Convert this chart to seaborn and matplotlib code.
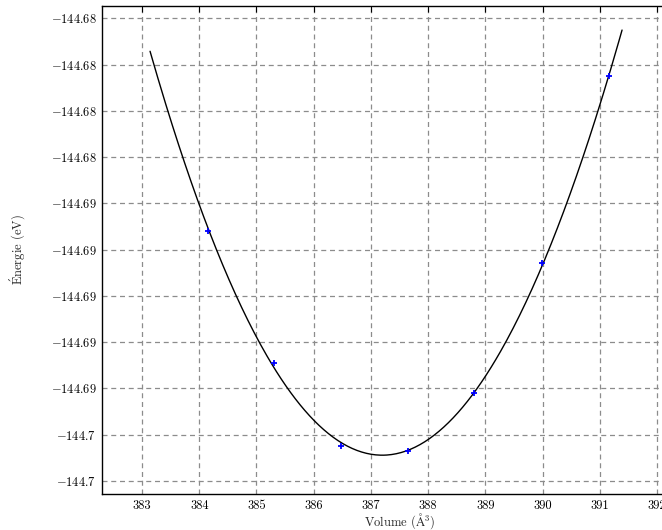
import numpy as np
import pandas as pd
import matplotlib
matplotlib.use("Agg")
import matplotlib.pyplot as plt
from matplotlib.ticker import FuncFormatter, FixedLocator
import seaborn as sns

# Data
volume = [384.159, 385.313, 386.479, 387.645, 388.810, 389.988, 391.164]
energy = [-144.68719, -144.69290, -144.69649, -144.69670, -144.69420, -144.68859, -144.68049]
fit_start, fit_end = 383.14, 391.39
fit_order = 3
y_ticks = [-144.678, -144.680, -144.682, -144.684, -144.686, -144.688,
           -144.690, -144.692, -144.694, -144.696, -144.698]
x_ticks = [383, 384, 385, 386, 387, 388, 389, 390, 391, 392]

sns.set_style("white")
plt.rcParams.update({
    "font.family": ["cmr10", "DejaVu Serif"],
    "mathtext.fontset": "cm",
    "axes.formatter.use_mathtext": True,
    "axes.unicode_minus": True,
})

df = pd.DataFrame({"V": volume, "E": energy})
coef = np.polyfit(df["V"], df["E"], fit_order)
vfit = np.linspace(fit_start, fit_end, 300)
fit_df = pd.DataFrame({"V": vfit, "E": np.polyval(coef, vfit)})

fig = plt.figure(figsize=(6.62, 5.30), dpi=100)
ax = fig.add_axes([102/662, 36/530, 595/662, 488/530])

sns.lineplot(data=fit_df, x="V", y="E", ax=ax, color="black", linewidth=1.0, sort=False)
sns.scatterplot(data=df, x="V", y="E", ax=ax, marker="+", color="blue",
                s=22, linewidth=1.3, zorder=5)

ax.set_xlim(382.30, 392.70)
ax.set_ylim(-144.69856, -144.67747)
ax.xaxis.set_major_locator(FixedLocator(x_ticks))
ax.yaxis.set_major_locator(FixedLocator(y_ticks))
ax.yaxis.set_major_formatter(FuncFormatter(lambda v, p: f"${round(v, 2):g}$"))
ax.xaxis.set_major_formatter(FuncFormatter(lambda v, p: f"{v:g}"))

ax.grid(True, linestyle=(0, (4, 3)), color="#8c8c8c", linewidth=0.9)
ax.tick_params(direction="in", length=4, width=0.8, labelsize=9, top=True,
               colors="black")
ax.tick_params(axis="x", pad=4)
ax.tick_params(axis="y", pad=4)
for s in ax.spines.values():
    s.set_color("black")
    s.set_linewidth(1.0)

ax.set_xlabel(r"Volume ($\mathrm{\AA}^3$)", fontsize=9, labelpad=0)
ax.set_ylabel(r"$\mathrm{\acute{E}}$nergie (eV)", fontsize=9, labelpad=17)

fig.savefig("out.png", dpi=100)
